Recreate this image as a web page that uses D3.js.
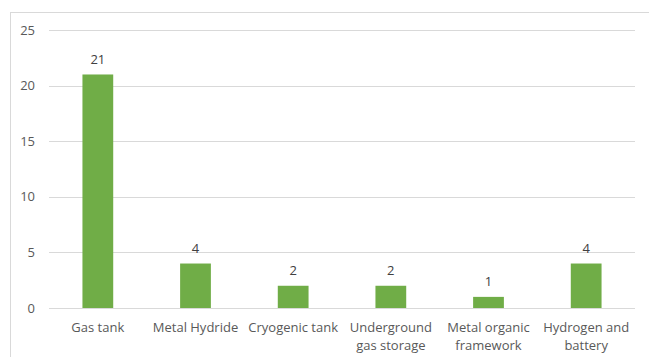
<!DOCTYPE html>
<html>
<head>
<meta charset="utf-8">
<script src="https://cdn.jsdelivr.net/npm/d3@7"></script>
<style>
  html, body { margin: 0; padding: 0; background: #fff; }
  svg { display: block; }
  text { font-family: "Open Sans", "Noto Sans", sans-serif; fill: #595959; }
</style>
</head>
<body>
<svg id="chart" width="649" height="357"></svg>
<script>
// Storage methods and number of studies for each
const categories = [
  ["Gas tank"],
  ["Metal Hydride"],
  ["Cryogenic tank"],
  ["Underground", "gas storage"],
  ["Metal organic", "framework"],
  ["Hydrogen and", "battery"]
];
const values = [21, 4, 2, 2, 1, 4];
const yTicks = [0, 5, 10, 15, 20, 25];

const svg = d3.select("#chart");
const W = 649, H = 357;
const margin = { left: 49, right: 14, top: 30, bottom: 49 };

// chart area frame
svg.append("rect")
  .attr("x", 10.5).attr("y", 12.5)
  .attr("width", W + 10).attr("height", H + 10)
  .attr("fill", "none").attr("stroke", "#d9d9d9").attr("stroke-width", 1);

const x = d3.scaleBand()
  .domain(d3.range(categories.length))
  .range([margin.left, W - margin.right])
  .paddingInner(0.685).paddingOuter(0.3425);

const y = d3.scaleLinear().domain([0, 25]).range([H - margin.bottom, margin.top]);

// gridlines
svg.append("g").selectAll("line").data(yTicks).join("line")
  .attr("x1", margin.left).attr("x2", W - margin.right)
  .attr("y1", d => Math.round(y(d)) + 0.5).attr("y2", d => Math.round(y(d)) + 0.5)
  .attr("stroke", "#d9d9d9").attr("stroke-width", 1);

// y axis labels
const yAxis = d3.axisLeft(y).tickValues(yTicks).tickSize(0).tickPadding(14);
const gy = svg.append("g").attr("transform", `translate(${margin.left},0)`).call(yAxis);
gy.select(".domain").remove();
gy.selectAll("text").attr("font-size", 13).style("fill", "#595959")
  .style("font-family", '"Open Sans", sans-serif');

// bars
svg.append("g").selectAll("rect").data(values).join("rect")
  .attr("x", (d, i) => x(i))
  .attr("width", x.bandwidth())
  .attr("y", d => y(d))
  .attr("height", d => y(0) - y(d))
  .attr("fill", "#70ad47");

// value labels
svg.append("g").selectAll("text").data(values).join("text")
  .attr("x", (d, i) => x(i) + x.bandwidth() / 2)
  .attr("y", d => y(d) - 10.5)
  .attr("text-anchor", "middle")
  .attr("font-size", 13)
  .style("fill", "#404040")
  .text(d => d);

// category labels
const cat = svg.append("g").selectAll("text").data(categories).join("text")
  .attr("x", (d, i) => x(i) + x.bandwidth() / 2)
  .attr("y", 332)
  .attr("text-anchor", "middle")
  .attr("font-size", 13);
cat.selectAll("tspan").data(d => d).join("tspan")
  .attr("x", function () { return d3.select(this.parentNode).attr("x"); })
  .attr("dy", (d, j) => j === 0 ? 0 : 18)
  .text(d => d);
</script>
</body>
</html>
